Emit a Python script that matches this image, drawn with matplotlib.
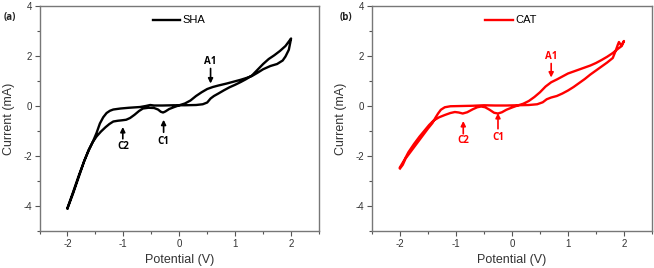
import matplotlib
matplotlib.use("Agg")
import matplotlib.pyplot as plt
from matplotlib.ticker import MultipleLocator

plt.rcParams['font.family'] = ['Liberation Sans', 'DejaVu Sans']
plt.rcParams['axes.unicode_minus'] = False

# SHA cyclic voltammogram: forward scan (-2 -> 2) then reverse (2 -> -2)
sha_v = [-2.0, -1.9, -1.8, -1.7, -1.62, -1.55, -1.48, -1.42, -1.36, -1.3, -1.24, -1.18,
         -1.05, -0.9, -0.7, -0.6, -0.52, -0.45, -0.3, -0.1, 0.1, 0.3, 0.42, 0.5, 0.56,
         0.62, 0.7, 0.8, 0.9, 1.0, 1.1, 1.2, 1.3, 1.4, 1.5, 1.6, 1.7, 1.8, 1.9, 1.95, 2.0,
         1.96, 1.9, 1.85, 1.75, 1.63, 1.5, 1.4, 1.3, 1.2, 1.1, 1.0, 0.85, 0.7, 0.6, 0.5,
         0.4, 0.3, 0.2, 0.1, 0.0, -0.1, -0.18, -0.25, -0.29, -0.33, -0.38, -0.45, -0.55,
         -0.65, -0.72, -0.8, -0.88, -0.95, -1.02, -1.1, -1.18, -1.25, -1.32, -1.4, -1.48,
         -1.55, -1.62, -1.7, -1.8, -1.9, -2.0]
sha_i = [-4.1, -3.5, -2.85, -2.2, -1.75, -1.45, -1.08, -0.7, -0.45, -0.28, -0.19, -0.14,
         -0.1, -0.07, -0.04, 0.0, 0.04, 0.02, 0.02, 0.03, 0.03, 0.04, 0.07, 0.14, 0.3,
         0.4, 0.5, 0.63, 0.75, 0.85, 0.96, 1.08, 1.22, 1.45, 1.68, 1.88, 2.03, 2.2, 2.4,
         2.55, 2.7,
         2.25, 1.98, 1.82, 1.68, 1.6, 1.47, 1.33, 1.2, 1.12, 1.05, 0.99, 0.9, 0.82, 0.76,
         0.68, 0.55, 0.4, 0.22, 0.1, 0.03, -0.05, -0.12, -0.22, -0.26, -0.23, -0.14, -0.08,
         -0.07, -0.1, -0.2, -0.35, -0.48, -0.55, -0.57, -0.59, -0.62, -0.72, -0.85, -1.02,
         -1.22, -1.45, -1.78, -2.2, -2.8, -3.45, -4.08]

# CAT cyclic voltammogram
cat_v = [-2.0, -1.95, -1.9, -1.8, -1.7, -1.6, -1.5, -1.42, -1.37, -1.32, -1.27, -1.2,
         -1.1, -0.9, -0.7, -0.5, -0.3, -0.1, 0.1, 0.3, 0.45, 0.55, 0.62, 0.7, 0.8, 0.9,
         1.0, 1.1, 1.2, 1.3, 1.4, 1.5, 1.6, 1.7, 1.8, 1.85, 1.89, 1.91, 1.95, 2.0,
         1.96, 1.9, 1.8, 1.7, 1.6, 1.5, 1.4, 1.3, 1.2, 1.1, 1.0, 0.9, 0.8, 0.7, 0.6, 0.5,
         0.4, 0.3, 0.2, 0.1, 0.0, -0.1, -0.18, -0.25, -0.32, -0.4, -0.48, -0.55, -0.62,
         -0.7, -0.8, -0.88, -0.95, -1.02, -1.1, -1.2, -1.3, -1.4, -1.48, -1.55, -1.65,
         -1.75, -1.85, -1.92, -2.0]
cat_i = [-2.5, -2.35, -2.1, -1.8, -1.5, -1.2, -0.9, -0.68, -0.48, -0.3, -0.15, -0.05,
         -0.01, 0.0, 0.01, 0.03, 0.02, 0.02, 0.03, 0.04, 0.07, 0.15, 0.27, 0.34, 0.4, 0.5,
         0.62, 0.76, 0.92, 1.08, 1.26, 1.42, 1.58, 1.74, 1.92, 2.2, 2.45, 2.56, 2.42, 2.6,
         2.4, 2.3, 2.12, 1.97, 1.84, 1.72, 1.62, 1.54, 1.46, 1.38, 1.3, 1.18, 1.06, 0.95,
         0.78, 0.55, 0.36, 0.2, 0.09, 0.02, -0.06, -0.15, -0.25, -0.3, -0.27, -0.15, -0.05,
         -0.02, -0.05, -0.13, -0.25, -0.3, -0.26, -0.24, -0.28, -0.36, -0.45, -0.58, -0.76,
         -0.95, -1.22, -1.52, -1.85, -2.15, -2.45]

xticks = [-2, -1, 0, 1, 2]
yticks = [-4, -2, 0, 2, 4]

# peak labels: (name, x, text y, arrow tail y, arrow tip y)
sha_peaks = [("A1", 0.56, 1.77, 1.5, 0.9),
             ("C1", -0.28, -1.41, -1.05, -0.55),
             ("C2", -1.01, -1.61, -1.31, -0.84)]
cat_peaks = [("A1", 0.70, 1.97, 1.7, 1.14),
             ("C1", -0.25, -1.25, -0.91, -0.28),
             ("C2", -0.87, -1.38, -1.11, -0.6)]

fig = plt.figure(figsize=(6.54, 2.68), dpi=100)
ax1 = fig.add_axes([0.0604, 0.138, 0.4274, 0.8396])
ax2 = fig.add_axes([0.5688, 0.138, 0.4281, 0.8396])

panels = [(ax1, sha_v, sha_i, "black", "SHA", sha_peaks, "(a)", 0.005),
          (ax2, cat_v, cat_i, "#ff0000", "CAT", cat_peaks, "(b)", 0.519)]

for ax, v, i, color, name, peaks, tag, tagx in panels:
    ax.plot(v, i, color=color, lw=1.7, label=name, solid_joinstyle='round')
    ax.set_xlim(-2.5, 2.5)
    ax.set_ylim(-5, 4)
    ax.set_xticks(xticks)
    ax.set_yticks(yticks)
    ax.xaxis.set_minor_locator(MultipleLocator(0.5))
    ax.yaxis.set_minor_locator(MultipleLocator(1))
    ax.tick_params(which='major', direction='out', length=3.5, width=0.8,
                   color='#555555', labelsize=7, labelcolor='#333333', pad=2)
    ax.tick_params(which='minor', direction='out', length=2, width=0.8, color='#555555')
    for s in ax.spines.values():
        s.set_color('#777777')
        s.set_linewidth(1.0)
    ax.set_xlabel("Potential (V)", fontsize=9, color='#333333', labelpad=4)
    ax.set_ylabel("Current (mA)", fontsize=9, color='#333333', labelpad=6)
    ax.legend(loc='upper left', bbox_to_anchor=(0.405, 0.958), frameon=False,
              fontsize=8, handlelength=2.5, handletextpad=0.2,
              borderpad=0, borderaxespad=0)
    for lab, px, ty, tail, tip in peaks:
        ax.annotate("", xy=(px, tip), xytext=(px, tail),
                    arrowprops=dict(arrowstyle='-|>', color=color, lw=1.2,
                                    mutation_scale=7, shrinkA=0, shrinkB=0))
        ax.text(px, ty, lab, color=color, fontsize=7, fontweight='bold',
                ha='center', va='center', family=['Open Sans', 'DejaVu Sans'])
    fig.text(tagx, 0.925, tag, fontsize=7, fontweight='bold', color='#222222',
             family=['Open Sans', 'DejaVu Sans'])

fig.savefig("out.png", dpi=100)
